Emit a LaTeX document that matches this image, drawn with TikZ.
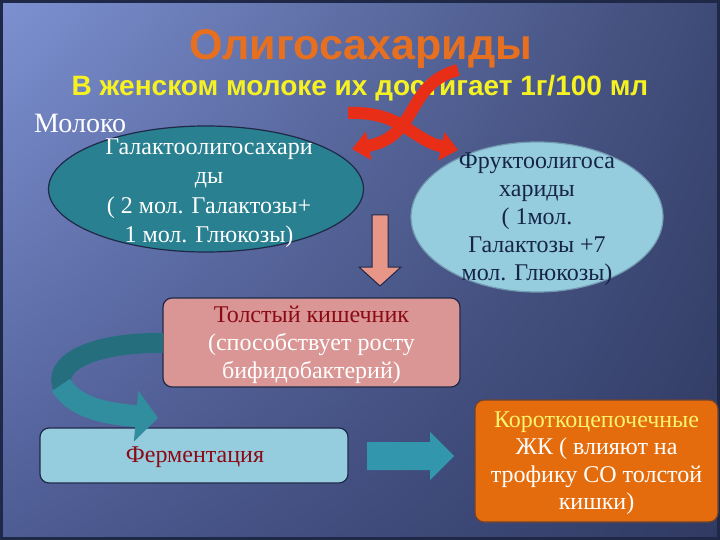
\documentclass[tikz,border=0pt]{standalone}
\usepackage{fontspec}
\setmainfont{Liberation Serif}
\newfontfamily\headfont{Liberation Sans}
\usepackage{xcolor}
\usetikzlibrary{shapes,shadings,arrows.meta,positioning,calc}

\definecolor{bgUL}{RGB}{125,145,210}
\definecolor{bgUR}{RGB}{62,74,118}
\definecolor{bgLL}{RGB}{78,92,148}
\definecolor{bgLR}{RGB}{48,58,98}
\definecolor{frameline}{RGB}{32,40,72}
\definecolor{titleorange}{RGB}{230,112,32}
\definecolor{subyellow}{RGB}{246,242,34}
\definecolor{tealdark}{RGB}{40,128,144}
\definecolor{lightblue}{RGB}{150,205,222}
\definecolor{navytext}{RGB}{22,36,72}
\definecolor{redarrow}{RGB}{232,46,22}
\definecolor{salmon}{RGB}{232,150,136}
\definecolor{pinkbox}{RGB}{217,150,148}
\definecolor{darkred}{RGB}{140,10,22}
\definecolor{curlA}{RGB}{36,110,126}
\definecolor{curlB}{RGB}{48,142,158}
\definecolor{tealarrow}{RGB}{50,150,172}
\definecolor{orangebox}{RGB}{228,108,12}
\definecolor{paleyellow}{RGB}{250,244,110}

\tikzset{
  bodytext/.style={font=\fontsize{24}{28.5}\selectfont, align=center, inner sep=0pt},
  roundbox/.style={rectangle, rounded corners=9pt, draw=frameline, line width=1.2pt, inner sep=0pt},
  blob/.style={ellipse, draw=frameline, line width=1.2pt, inner sep=0pt},
  redband/.style={draw=redarrow, line width=12pt, -{Triangle[width=28pt,length=17pt]}},
}

\begin{document}
\begin{tikzpicture}[x=1pt,y=-1pt]
    \useasboundingbox (0,0) rectangle (720,540);
    % slide background
    \shade[upper left=bgUL, upper right=bgUR, lower left=bgLL, lower right=bgLR] (0,0) rectangle (720,540);
    \draw[frameline, line width=3pt] (1.5,1.5) rectangle (718.5,538.5);

    % headings
    \node[text=titleorange, font=\headfont\bfseries\fontsize{43}{45}\selectfont] (title) at (361,49) {Олигосахариды};
    \node[text=subyellow, font=\headfont\bfseries\fontsize{28}{30}\selectfont] (subtitle) at (360,88) {В женском молоке их достигает 1г/100 мл};
    \node[anchor=base west, text=white, font=\fontsize{28}{30}\selectfont, inner sep=0pt] (milk) at (34,133) {Молоко};

    % two kinds of oligosaccharides
    \node[blob, fill=tealdark, minimum width=315pt, minimum height=126pt] (galE) at (206,189) {};
    \node[bodytext, font=\fontsize{24}{29.5}\selectfont, text=white] (galT) at (209,193) {Галактоолигосахари\\ды\\( 2 мол. Галактозы+\\1 мол. Глюкозы)};
    \node[blob, fill=lightblue, draw=lightblue!70!frameline, minimum width=252pt, minimum height=150pt] (fruE) at (537,217) {};
    \node[bodytext, font=\fontsize{24}{28}\selectfont, text=navytext] (fruT) at (537,219) {Фруктоолигоса\\хариды\\( 1мол.\\Галактозы  +7\\мол. Глюкозы)};

    % red split arrows
    \draw[redband] (458,70) .. controls (405,84) and (420,136) .. (352,149);
    \draw[redband] (348,113) .. controls (402,111) and (412,140) .. (458,150);

    % down arrow
    \draw[fill=salmon, draw=frameline, line width=1pt] (372,215) -- (388,215) -- (388,267) -- (401,267) -- (380,286) -- (359,267) -- (372,267) -- cycle;

    % colon box
    \node[roundbox, fill=pinkbox, minimum width=297pt, minimum height=89pt] (colon) at (311.5,342.5) {};
    \node[bodytext, text=white, font=\fontsize{24}{28}\selectfont] (colonT) at (311.5,345) {{\color{darkred}Толстый кишечник}\\(способствует росту\\бифидобактерий)};

    % fermentation box
    \node[roundbox, fill=lightblue, minimum width=308pt, minimum height=55pt] (ferm) at (194,455.5) {};
    \node[bodytext, text=darkred] (fermT) at (195,457) {Ферментация};

    % curled arrow from colon to fermentation
    \draw[curlA, line width=20pt] (163,343) .. controls (90,342) and (50,365) .. (64,389);
    \draw[curlB, line width=22pt, -{Triangle[width=50pt,length=22pt]}] (61,385) .. controls (76,410) and (112,414) .. (158,418);

    % arrow to short chain fatty acids
    \fill[tealarrow] (367,442) -- (430,442) -- (430,432) -- (454,456) -- (430,480) -- (430,470) -- (367,470) -- cycle;

    \node[roundbox, fill=orangebox, draw=frameline!60!orangebox, minimum width=243pt, minimum height=122pt] (scfa) at (596.5,461) {};
    \node[bodytext, font=\fontsize{24}{27.5}\selectfont, text=white] (scfaT) at (596.5,463) {{\color{paleyellow}Короткоцепочечные}\\ЖК ( влияют на\\трофику СО толстой\\кишки)};
\end{tikzpicture}
\end{document}
